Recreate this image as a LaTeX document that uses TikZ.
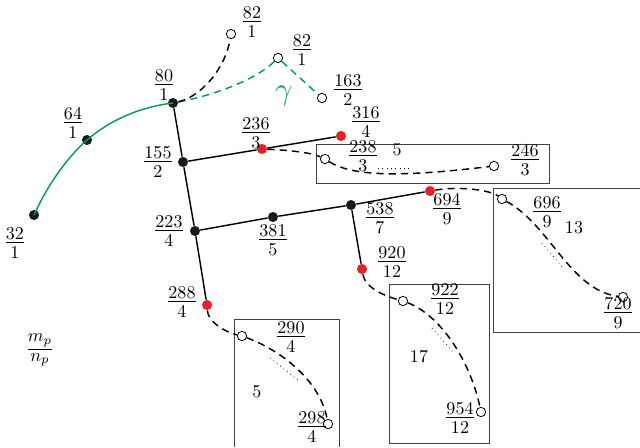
\documentclass[tikz,border=0pt]{standalone}
\usepackage{amsmath}
\usepackage{tikz}
\usetikzlibrary{positioning}
\definecolor{arcgreen}{RGB}{0,160,80}
\definecolor{ptred}{RGB}{232,30,40}
\newcommand{\fr}[2]{\vbox{\halign{\hfil##\hfil\cr $#1$\cr
  \noalign{\kern1.6pt\hrule\kern1.9pt}$#2$\cr}}}
\tikzset{
  blk/.style={circle,fill=black!90,inner sep=0pt,minimum size=5.6pt},
  rdot/.style={circle,fill=ptred,inner sep=0pt,minimum size=5.6pt},
  odot/.style={circle,draw,fill=white,inner sep=0pt,minimum size=5.2pt,line width=0.45pt},
  lab/.style={inner sep=0pt},
  edge/.style={line width=0.8pt},
  dsh/.style={line width=0.8pt,dash pattern=on 4pt off 2.8pt},
  frame/.style={draw=black!75,line width=0.5pt},
  dots/.style={dotted,line width=0.4pt}
}
\begin{document}
\begin{tikzpicture}[x=0.0195cm,y=-0.0195cm]
  \useasboundingbox (0,0) rectangle (640,447);
  % boxes
  \draw[frame] (316,144) rectangle (549,183);
  \draw[frame] (640,188) -- (493,188) -- (493,332) -- (640,332);
  \draw[frame] (389,284) rectangle (489,443);
  \draw[frame] (234,447) -- (234,319) -- (339,319) -- (339,447);
  % points on the tree
  \node[blk] (p32) at (34,215) {};
  \node[blk] (p64) at (87,140) {};
  \node[blk] (p80) at (173,103) {};
  \node[blk] (p155) at (183,162) {};
  \node[blk] (p223) at (195,231) {};
  \node[blk] (p381) at (273,217) {};
  \node[blk] (p538) at (351,205) {};
  \node[rdot] (p236) at (262,149) {};
  \node[rdot] (p316) at (341,136) {};
  \node[rdot] (p694) at (430,191) {};
  \node[rdot] (p920) at (362,269) {};
  \node[rdot] (p288) at (207,305) {};
  % open ends
  \node[odot] (q82a) at (231,34) {};
  \node[odot] (q82b) at (278,58) {};
  \node[odot] (q163) at (322,98) {};
  \node[odot] (q238) at (325,159) {};
  \node[odot] (q246) at (494,166) {};
  \node[odot] (q696) at (502,199) {};
  \node[odot] (q720) at (623,297) {};
  \node[odot] (q922) at (403,301) {};
  \node[odot] (q954) at (481,412) {};
  \node[odot] (q290) at (242,336) {};
  \node[odot] (q298) at (328,424) {};
  % solid edges
  \draw[edge] (p80) -- (p155) -- (p223) -- (p288);
  \draw[edge] (p155) -- (p236) -- (p316);
  \draw[edge] (p223) -- (p381) -- (p538) -- (p694);
  \draw[edge] (p538) -- (p920);
  \draw[edge,arcgreen] (p32.center) .. controls (50,180) and (70,155) .. (p64.center)
    .. controls (110,120) and (140,107) .. (p80.center);
  % dashed branches
  \draw[dsh,arcgreen] (p80) .. controls (215,95) and (255,80) .. (q82b);
  \draw[dsh,arcgreen] (q82b) -- (q163);
  \draw[dsh] (p80) .. controls (200,97) and (225,70) .. (q82a);
  \draw[dsh] (p236) .. controls (285,150) and (310,152) .. (q238);
  \draw[dsh] (q238) .. controls (355,178) and (410,176) .. (q246);
  \draw[dsh] (p694) .. controls (460,186) and (490,190) .. (q696);
  \draw[dsh] (q696) .. controls (550,225) and (570,290) .. (q720);
  \draw[dsh] (p920) .. controls (365,288) and (385,296) .. (q922);
  \draw[dsh] (q922) .. controls (440,315) and (470,360) .. (q954);
  \draw[dsh] (p288) .. controls (208,322) and (225,332) .. (q290);
  \draw[dsh] (q290) .. controls (280,350) and (320,380) .. (q298);
  % dotted chords
  \draw[dots] (378,168) -- (410,168);
  \draw[dots] (542,243) -- (563,268);
  \draw[dots] (432,328) -- (453,352);
  \draw[dots] (270,358) -- (298,380);
  % labels
  \node[lab] (l32) at (15,243) {\fr{32}{1}};
  \node[lab] (l64) at (73,123) {\fr{64}{1}};
  \node[lab] (l80) at (164,85) {\fr{80}{1}};
  \node[lab] (l82a) at (252,22) {\fr{82}{1}};
  \node[lab] (l82b) at (302,50) {\fr{82}{1}};
  \node[lab] (l163) at (348,90) {\fr{163}{2}};
  \node[lab,arcgreen,font=\fontsize{19}{22}\selectfont] (gam) at (284,96) {$\gamma$};
  \node[lab] (l155) at (158,162) {\fr{155}{2}};
  \node[lab] (l236) at (256,133) {\fr{236}{3}};
  \node[lab] (l316) at (366,122) {\fr{316}{4}};
  \node[lab] (l238) at (363,156) {\fr{238}{3}};
  \node[lab] (n5a) at (397,150) {$5$};
  \node[lab] (l246) at (525,160) {\fr{246}{3}};
  \node[lab] (l223) at (169,231) {\fr{223}{4}};
  \node[lab] (l381) at (273,240) {\fr{381}{5}};
  \node[lab] (l538) at (380,218) {\fr{538}{7}};
  \node[lab] (l694) at (447,209) {\fr{694}{9}};
  \node[lab] (l696) at (547,212) {\fr{696}{9}};
  \node[lab] (n13) at (574,228) {$13$};
  \node[lab] (l720) at (618,313) {\fr{720}{9}};
  \node[lab] (l920) at (392,262) {\fr{920}{12}};
  \node[lab] (l922) at (445,299) {\fr{922}{12}};
  \node[lab] (n17) at (419,357) {$17$};
  \node[lab] (l954) at (460,418) {\fr{954}{12}};
  \node[lab] (l288) at (182,302) {\fr{288}{4}};
  \node[lab] (l290) at (291,337) {\fr{290}{4}};
  \node[lab] (n5b) at (257,392) {$5$};
  \node[lab] (l298) at (312,427) {\fr{298}{4}};
  \node[lab] (mn) at (40,350) {\fr{m_p}{n_p}};
\end{tikzpicture}
\end{document}
